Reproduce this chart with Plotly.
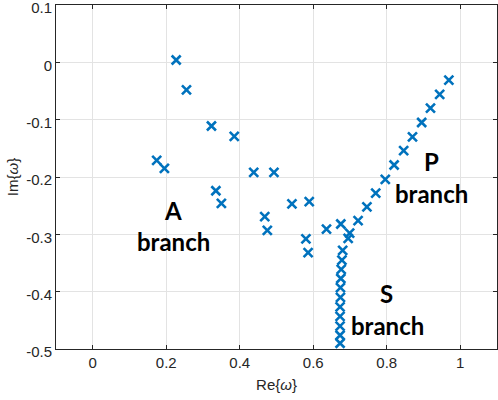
import plotly.graph_objects as go

# A branch
a_re = [0.227, 0.255, 0.323, 0.385, 0.174, 0.195, 0.438, 0.493, 0.335, 0.350,
        0.542, 0.468, 0.475, 0.589, 0.580, 0.586, 0.636]
a_im = [0.004, -0.048, -0.111, -0.129, -0.171, -0.185, -0.192, -0.192, -0.224, -0.246,
        -0.247, -0.269, -0.293, -0.243, -0.308, -0.332, -0.291]

# P branch
p_re = [0.675, 0.699, 0.695, 0.722, 0.746, 0.770, 0.796, 0.820, 0.846, 0.870,
        0.895, 0.919, 0.944, 0.969]
p_im = [-0.282, -0.298, -0.307, -0.276, -0.252, -0.228, -0.204, -0.179, -0.154, -0.130,
        -0.105, -0.080, -0.056, -0.031]

# S branch
s_re = [0.680, 0.678, 0.676, 0.675, 0.674, 0.674, 0.673, 0.673, 0.673, 0.673, 0.673]
s_im = [-0.328, -0.345, -0.361, -0.377, -0.393, -0.410, -0.4265, -0.443, -0.460, -0.476, -0.490]

x_ticks = [0, 0.2, 0.4, 0.6, 0.8, 1]
x_tick_labels = ["0", "0.2", "0.4", "0.6", "0.8", "1"]
y_ticks = [0.1, 0, -0.1, -0.2, -0.3, -0.4, -0.5]
y_tick_labels = ["0.1", "0", "-0.1", "-0.2", "-0.3", "-0.4", "-0.5"]

labels = [("A", 0.219, -0.258), ("branch", 0.219, -0.313),
          ("P", 0.921, -0.1735), ("branch", 0.921, -0.2286),
          ("S", 0.800, -0.403), ("branch", 0.803, -0.4585)]

re_all = a_re + p_re + s_re
im_all = a_im + p_im + s_im

fig = go.Figure()
fig.add_trace(go.Scatter(
    x=re_all, y=im_all, mode="markers",
    marker=dict(symbol="x-thin-open", size=9, color="#0072BD",
                line=dict(color="#0072BD", width=2.6)),
    showlegend=False, cliponaxis=True,
))

for txt, xx, yy in labels:
    fig.add_annotation(x=xx, y=yy, xref="x", yref="y", text="<b>%s</b>" % txt,
                       showarrow=False, font=dict(family="Lato", size=24, color="black"))

axis_common = dict(
    showgrid=True, gridcolor="#e3e3e3", gridwidth=1, automargin=False,
    zeroline=False, showline=True, linecolor="#262626", linewidth=1,
    mirror="allticks", ticks="inside", ticklen=4, tickcolor="#262626",
    ticklabeloverflow="allow",
    tickfont=dict(family="Liberation Sans", size=15, color="#262626"),
)

fig.update_xaxes(range=[-0.1, 1.1], tickvals=x_ticks, ticktext=x_tick_labels,
                 title=dict(text="Re{<i>ω</i>}", standoff=9,
                            font=dict(family="Liberation Sans", size=15, color="#262626")),
                 **axis_common)
fig.update_yaxes(range=[-0.5, 0.10001], tickvals=y_ticks, ticktext=y_tick_labels,
                 ticklabelshift=3,
                 title=dict(text="Im{<i>ω</i>}", standoff=3,
                            font=dict(family="Liberation Sans", size=15, color="#262626")),
                 **axis_common)

fig.update_layout(
    width=498, height=400,
    margin=dict(l=56, r=1, t=5, b=51),
    plot_bgcolor="white", paper_bgcolor="white",
)

fig.write_html("out.html", config={"displayModeBar": False},
               post_script="document.body.style.margin='0';document.body.style.overflow='hidden';")
